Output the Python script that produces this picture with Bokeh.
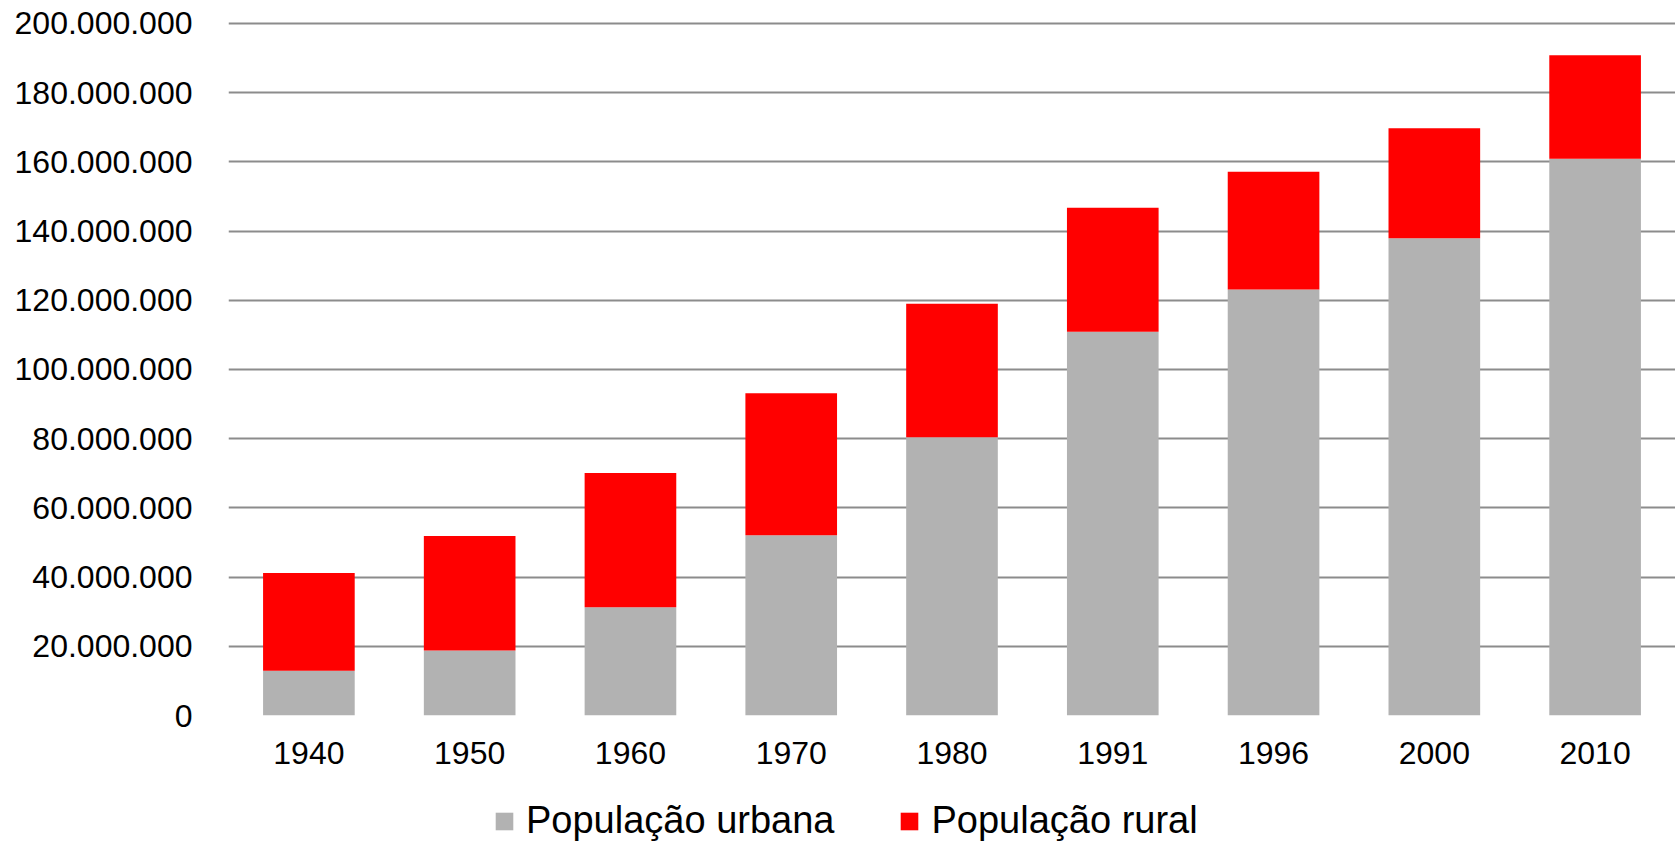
from bokeh.plotting import figure
from bokeh.layouts import column
from bokeh.models import Range1d, FixedTicker, Legend, LegendItem, ColumnDataSource, FactorRange
from bokeh.embed import file_html
from bokeh.resources import INLINE

years = ["1940", "1950", "1960", "1970", "1980", "1991", "1996", "2000", "2010"]
urbana = [12.9e6, 18.8e6, 31.3e6, 52.1e6, 80.4e6, 110.9e6, 123.1e6, 137.9e6, 160.9e6]
rural = [28.3e6, 33.1e6, 38.8e6, 41.0e6, 38.6e6, 35.8e6, 34.0e6, 31.8e6, 29.9e6]
y_ticks = [0, 20e6, 40e6, 60e6, 80e6, 100e6, 120e6, 140e6, 160e6, 180e6, 200e6]
y_tick_labels = ["0", "20.000.000", "40.000.000", "60.000.000", "80.000.000", "100.000.000",
                 "120.000.000", "140.000.000", "160.000.000", "180.000.000", "200.000.000"]
series_names = ["População urbana", "População rural"]
colors = ["#b2b2b2", "#ff0000"]

source = ColumnDataSource(dict(years=years, urbana=urbana, rural=rural))

p = figure(width=1675, height=775, x_range=FactorRange(*years), y_range=Range1d(0, 202e6),
           output_backend="svg", toolbar_location=None,
           min_border_left=228, min_border_right=0, min_border_top=16, min_border_bottom=60)
p.outline_line_color = None

p.vbar_stack(["urbana", "rural"], x="years", width=0.57, color=colors,
             line_color=None, source=source)

p.yaxis.ticker = FixedTicker(ticks=y_ticks)
p.yaxis.major_label_overrides = {t: l for t, l in zip(y_ticks, y_tick_labels)}
p.yaxis.axis_line_color = None
p.yaxis.major_tick_line_color = None
p.yaxis.minor_tick_line_color = None
p.yaxis.major_label_standoff = 30
p.yaxis.major_label_text_font = "Liberation Sans"
p.yaxis.major_label_text_font_size = "32px"
p.yaxis.major_label_text_color = "#000000"

p.xaxis.axis_line_color = None
p.xaxis.major_tick_line_color = None
p.xaxis.minor_tick_line_color = None
p.xaxis.major_label_standoff = 20
p.xaxis.major_label_text_font = "Liberation Sans"
p.xaxis.major_label_text_font_size = "32px"
p.xaxis.major_label_text_color = "#000000"

p.xgrid.grid_line_color = None
p.ygrid.grid_line_color = "#8c8c8c"
p.ygrid.grid_line_width = 1.8

# legend strip below the chart (its hidden renderers only supply the legend swatches)
p2 = figure(width=1675, height=68, x_range=FactorRange(*years), y_range=Range1d(-2, -1),
            output_backend="svg", toolbar_location=None, x_axis_type=None, y_axis_type=None,
            min_border=0, min_border_left=0, min_border_right=0, min_border_top=0, min_border_bottom=0)
p2.outline_line_color = None
p2.grid.grid_line_color = None
leg_renderers = p2.vbar_stack(["urbana", "rural"], x="years", width=0.57, color=colors,
                              line_color=None, source=source)
for r in leg_renderers:
    r.visible = False

legend = Legend(items=[LegendItem(label=n, renderers=[r]) for n, r in zip(series_names, leg_renderers)],
                orientation="horizontal", location=(265, 1),
                glyph_width=22, glyph_height=22, label_standoff=11, spacing=64,
                padding=0, margin=0, border_line_color=None, background_fill_alpha=0,
                inactive_fill_alpha=0,
                label_text_font="Liberation Sans", label_text_font_size="38px",
                label_text_color="#000000")
p2.add_layout(legend, "center")

layout = column(p, p2, spacing=0)
open("out.html", "w").write(file_html(layout, INLINE))
